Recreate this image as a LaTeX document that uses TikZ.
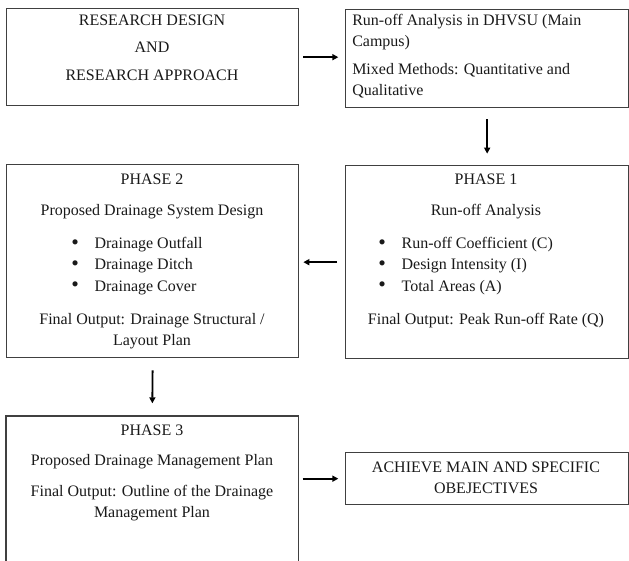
\documentclass[tikz,border=0pt]{standalone}
\usepackage{fontspec}
\setmainfont{Liberation Serif}
\usetikzlibrary{arrows.meta,positioning}

\tikzset{
  frame/.style={draw=black!75, line width=1pt, anchor=north west, inner sep=0pt},
  txt/.style={font=\fontsize{12}{15.9}\selectfont, text=black!90, inner sep=0pt},
  flow/.style={-{Triangle[length=4.5pt,width=4.5pt]}, line width=1.4pt},
}
\newcommand{\bul}{\makebox[17.5pt][l]{\raisebox{-0.6pt}{\scalebox{1.35}{\textbullet}}}}

\begin{document}
\begin{tikzpicture}[x=0.75pt,y=-0.75pt]
  \useasboundingbox (0,0) rectangle (629,561);

  %% research design
  \node[frame, minimum width=219pt, minimum height=72.75pt] (rd) at (6,8) {};
  \node[txt] (rdA) at (152,20) {RESEARCH DESIGN};
  \node[txt] (rdB) at (152,47) {AND};
  \node[txt] (rdC) at (152,75) {RESEARCH APPROACH};

  %% run-off analysis
  \node[frame, minimum width=212.25pt, minimum height=73.5pt] (ra) at (345,9) {};
  \node[txt, anchor=west, align=left] (raA) at (352,32) {Run-off Analysis in DHVSU (Main\\Campus)};
  \node[txt, anchor=west, align=left] (raB) at (352,81) {Mixed Methods: Quantitative and\\Qualitative};

  %% phase 1
  \node[frame, minimum width=212.25pt, minimum height=144.75pt] (p1) at (345,165) {};
  \node[txt] (p1A) at (486,179) {PHASE 1};
  \node[txt] (p1B) at (486,212) {Run-off Analysis};
  \node[txt, anchor=west, align=left] (p1list) at (378,266)
    {\bul Run-off Coefficient (C)\\\bul Design Intensity (I)\\\bul Total Areas (A)};
  \node[txt] (p1C) at (486,321) {Final Output: Peak Run-off Rate (Q)};

  %% phase 2
  \node[frame, minimum width=219pt, minimum height=144.75pt] (p2) at (6,164) {};
  \node[txt] (p2A) at (152,179) {PHASE 2};
  \node[txt] (p2B) at (152,212) {Proposed Drainage System Design};
  \node[txt, anchor=west, align=left] (p2list) at (71,266)
    {\bul Drainage Outfall\\\bul Drainage Ditch\\\bul Drainage Cover};
  \node[txt, align=center] (p2C) at (152,331) {Final Output: Drainage Structural /\\Layout Plan};

  %% phase 3 (runs off the bottom)
  \node[inner sep=0pt, anchor=north west, minimum width=219pt, minimum height=108.75pt] (p3) at (6,416) {};
  \draw[draw=black!75, line width=1pt] (p3.south west) -- (p3.north west) -- (p3.north east) -- (p3.south east);
  \node[txt] (p3A) at (152,430) {PHASE 3};
  \node[txt] (p3B) at (152,462) {Proposed Drainage Management Plan};
  \node[txt, align=center] (p3C) at (152,503) {Final Output: Outline of the Drainage\\Management Plan};

  %% objectives
  \node[frame, minimum width=212.25pt, minimum height=39pt] (ach) at (345,452) {};
  \node[txt, align=center] (achA) at (486,478) {ACHIEVE MAIN AND SPECIFIC\\OBEJECTIVES};

  %% arrows
  \draw[flow, shorten <=3pt, shorten >=5pt] (rd.east) -- (rd.east -| ra.west);
  \draw[flow, shorten <=8pt, shorten >=8.5pt] (ra.south) -- (p1.north);
  \draw[flow, shorten <=6pt, shorten >=3pt] (p1.west) -- (p1.west -| p2.east);
  \draw[flow, shorten <=9pt, shorten >=9.5pt] (p2.south) -- (p3.north);
  \draw[flow, shorten <=3pt, shorten >=5pt] (ach.west -| p3.east) -- (ach.west);
\end{tikzpicture}
\end{document}
